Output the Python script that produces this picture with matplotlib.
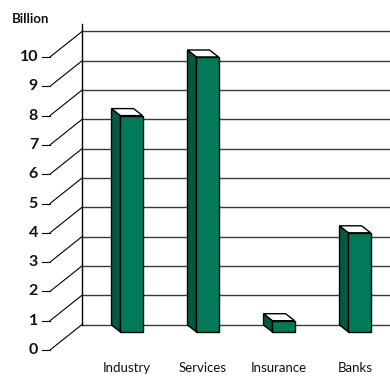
import matplotlib.pyplot as plt
from matplotlib.patches import Polygon

plt.rcParams["font.family"] = ["Lato", "DejaVu Sans"]

categories = ["Industry", "Services", "Insurance", "Banks"]
values = [8, 10, 1, 4]
y_ticks = list(range(0, 11))
unit_label = "Billion"

FRONT = "#007a58"
SIDE = "#005b42"
GRID = "#3a3a3a"

# fake 3d geometry, in data units (x: category index, y: value)
BACK_DX = 0.421
BACK_DY = 0.87
WALL_X = -0.651
TICK_X0 = -1.178
TICK_X1 = -1.072
BAR_W = 0.29
BAR_DX = -0.118
BAR_DY = 0.239
BAR_BASE = 0.614

fig = plt.figure(figsize=(3.9, 3.76), dpi=100)
ax = fig.add_axes([0, 0, 1, 1])
ax.set_xlim(-1.730, 3.401)
ax.set_ylim(-0.887, 11.945)
ax.axis("off")

# back wall grid + diagonal connectors to the front ticks
for k in y_ticks:
    yb = k + BACK_DY
    ax.plot([WALL_X, 3.401], [yb, yb], color=GRID, lw=1.0, zorder=1)
    ax.plot([TICK_X1, WALL_X], [k, yb], color="black", lw=0.8, zorder=1)
    ax.plot([TICK_X0, TICK_X1], [k, k], color="black", lw=0.8, zorder=1)
    ax.text(-1.23, k, str(k), ha="right", va="center", fontsize=11.5,
            fontweight="bold", color="#111111")
ax.plot([WALL_X, WALL_X], [BACK_DY, 11.13], color="black", lw=1.0, zorder=1)

ax.text(-1.572, 11.3, unit_label, ha="left", va="center", fontsize=9.5,
        fontweight="bold", color="#111111")

for i, (cat, v) in enumerate(zip(categories, values)):
    x0 = i - BAR_W / 2
    x1 = i + BAR_W / 2
    side = [(x0 + BAR_DX, BAR_BASE + BAR_DY), (x0, BAR_BASE), (x0, v), (x0 + BAR_DX, v + BAR_DY)]
    top = [(x0, v), (x1, v), (x1 + BAR_DX, v + BAR_DY), (x0 + BAR_DX, v + BAR_DY)]
    front = [(x0, BAR_BASE), (x1, BAR_BASE), (x1, v), (x0, v)]
    ax.add_patch(Polygon(side, closed=True, facecolor=SIDE, edgecolor="black", lw=1.0, zorder=3))
    ax.add_patch(Polygon(top, closed=True, facecolor="white", edgecolor="black", lw=1.0, zorder=3))
    ax.add_patch(Polygon(front, closed=True, facecolor=FRONT, edgecolor="black", lw=1.0, zorder=4))
    ax.text(i + BAR_DX / 2, -0.6, cat, ha="center", va="center", fontsize=9.5, color="#111111")

fig.savefig("out.png", dpi=100)
